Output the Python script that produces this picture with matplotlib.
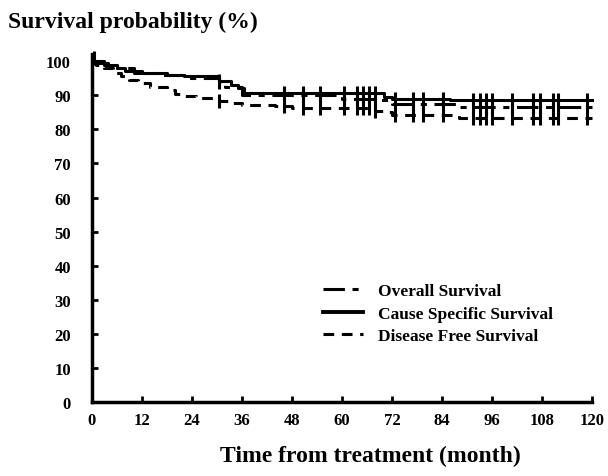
import numpy as np
import matplotlib.pyplot as plt
from matplotlib.lines import Line2D

plt.rcParams['font.family'] = ['Liberation Serif', 'DejaVu Serif']
plt.rcParams['font.weight'] = 'bold'

# Kaplan-Meier step estimates (month, %)
css_t = [0, 1.5, 4, 6, 8, 12, 18, 22, 30.5, 33.5, 35, 36.5, 70, 72, 86]
css_s = [100, 99.5, 99, 98, 97, 96.5, 96, 95.5, 94.3, 93, 92, 90.8, 89.5, 89, 88.5]

os_t = [0, 3, 6, 10, 16, 22, 30.5, 32, 36, 60, 68, 72, 88]
os_s = [100, 99, 98, 96.5, 96, 95, 94, 92.5, 90, 89, 88.5, 87.5, 86.5]

dfs_t = [0, 1, 3, 5, 7, 9, 11, 14, 18, 20, 22, 25, 30.5, 33, 36, 44, 48, 68, 70, 72, 88]
dfs_s = [100, 99, 98, 96.5, 95.5, 94.5, 93.5, 92.5, 91.5, 90.5, 89.8, 89.2, 88.2, 87.8, 87.2,
         86.8, 86.3, 85.5, 85, 84.3, 83.3]

# censored patients (month)
cens_t = [30.5, 46, 50.6, 54.7, 60.5, 63.6, 65, 66.5, 68, 72.7, 77, 79.4, 84.2, 91.4, 93,
          94.5, 96, 100.8, 105.8, 107.5, 110.6, 111.8, 118.8]

x_ticks = [0, 12, 24, 36, 48, 60, 72, 84, 96, 108, 120]
y_ticks = [0, 10, 20, 30, 40, 50, 60, 70, 80, 90, 100]


def step_at(t, s, x):
    idx = np.searchsorted(t, x, side='right') - 1
    return np.asarray(s)[idx]


fig = plt.figure(figsize=(6.08, 4.77), dpi=100)
ax = fig.add_axes([0.151, 0.155, 0.823, 0.729])

lw = 2.2
os_dash = (7, 2.5, 2, 2.5)
dfs_dash = (3.5, 2.5)
ax.step(css_t + [120], css_s + [css_s[-1]], where='post', color='black', lw=lw, clip_on=False)
ax.step(os_t + [120], os_s + [os_s[-1]], where='post', color='black', lw=lw,
        dashes=os_dash, clip_on=False)
ax.step(dfs_t + [120], dfs_s + [dfs_s[-1]], where='post', color='black', lw=lw,
        dashes=dfs_dash, clip_on=False)

# censor ticks on each curve
for t, s in [(css_t, css_s), (os_t, os_s), (dfs_t, dfs_s)]:
    ax.plot(cens_t, step_at(t, s, cens_t), ls='none', marker='|', ms=10, mew=2.2,
            color='black', clip_on=False)
ax.plot([0.5], [101], ls='none', marker='|', ms=10, mew=2.2, color='black', clip_on=False)

ax.set_xlim(0, 120)
ax.set_ylim(0, 102)
ax.set_xticks(x_ticks)
ax.set_yticks(y_ticks)
ax.tick_params(axis='both', direction='in', length=4, width=2, labelsize=12)
ax.tick_params(axis='y', pad=15)
ax.tick_params(axis='x', pad=7)
for lab in ax.get_xticklabels() + ax.get_yticklabels():
    lab.set_fontweight('bold')
ax.spines['top'].set_visible(False)
ax.spines['right'].set_visible(False)
ax.spines['left'].set_linewidth(2.5)
ax.spines['bottom'].set_linewidth(2.5)

fig.text(0.609, 0.044, 'Time from treatment (month)', fontsize=17, fontweight='bold',
         ha='center', va='center')
fig.text(0.013, 0.952, 'Survival probability (%)', fontsize=17, fontweight='bold',
         ha='left', va='center')

handles = [
    Line2D([0], [0], color='black', lw=lw, dashes=os_dash, label='Overall Survival'),
    Line2D([0], [0], color='black', lw=2.8, label='Cause Specific Survival'),
    Line2D([0], [0], color='black', lw=lw, dashes=dfs_dash, label='Disease Free Survival'),
]
fig.legend(handles=handles, loc='upper left', bbox_to_anchor=(0.531, 0.404), frameon=False,
           prop={'weight': 'bold', 'size': 12.5}, handlelength=2.3, handletextpad=0.86,
           labelspacing=0.36, borderpad=0, borderaxespad=0)

fig.savefig('out.png', dpi=100)
